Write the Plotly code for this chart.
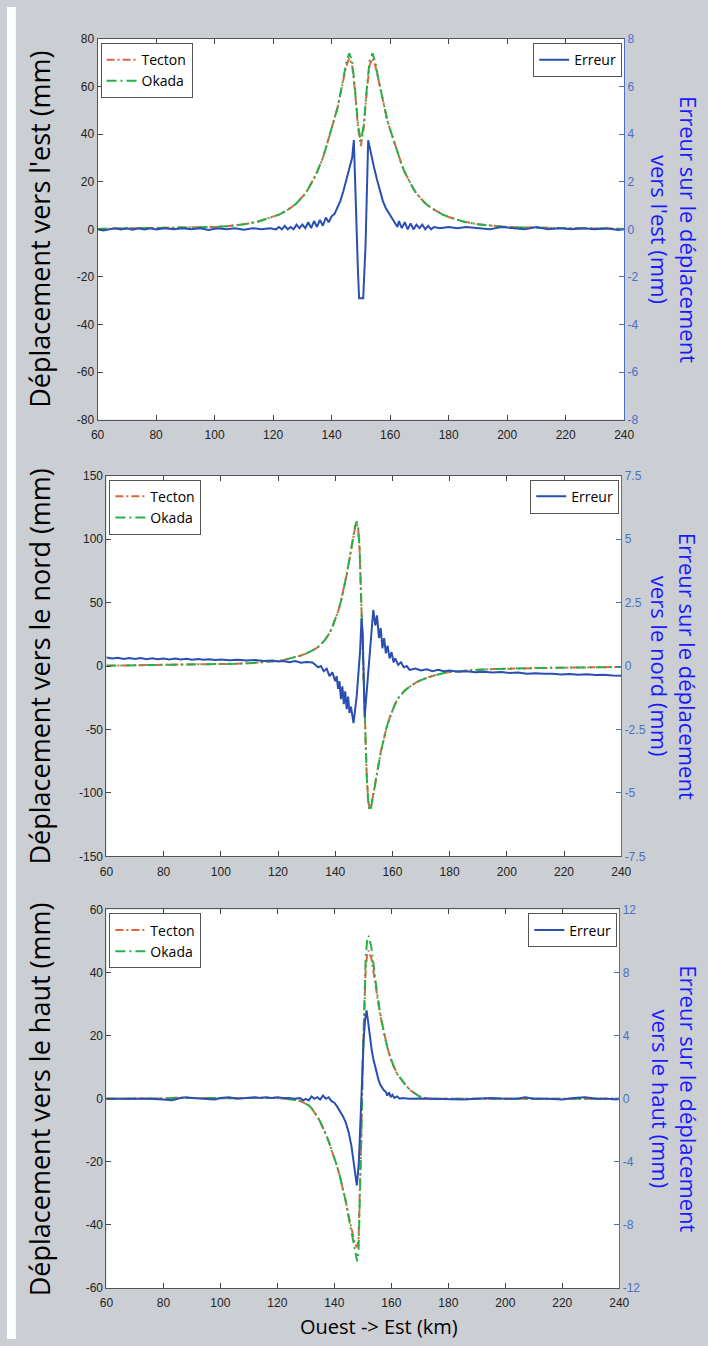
import plotly.graph_objects as go

# ---------------- DATA ----------------
# Panel 1 : east displacement
X_EST = [60, 65, 70, 75, 80, 85, 90, 95, 100, 105, 110, 115, 120,
         122, 124, 126, 128, 130,
         131, 132, 133, 134, 135, 136, 137, 138, 139, 140, 141, 142, 143, 144, 145,
         146, 147, 148, 149, 150, 151, 152, 153, 154, 155, 156, 157, 158, 159, 160,
         161, 162, 163, 164, 165, 166, 167, 168, 169, 170,
         172, 174, 176, 178, 180,
         185, 190, 195, 200, 205, 210, 215, 220, 225, 230, 235, 240]
TECTON_EST = [0.2, 0.3, 0.3, 0.4, 0.5, 0.6, 0.7, 0.8, 1.0, 1.4, 2.1, 3.3, 5.2,
              6.2, 7.5, 9.0, 11.0, 13.5,
              15, 17, 19, 21.5, 24, 27, 30, 34, 38, 42, 46, 51, 57, 63, 68.5,
              72, 69, 58, 43, 35, 43, 58, 69, 72, 68.5, 63, 57, 51, 46, 42,
              38, 34, 30, 27, 24, 21.5, 19, 17, 15, 13.5,
              11.0, 9.0, 7.5, 6.2, 5.2,
              3.3, 2.1, 1.4, 1.0, 0.8, 0.7, 0.6, 0.5, 0.4, 0.3, 0.3, 0.2]
OKADA_EST = [0.2, 0.3, 0.3, 0.4, 0.5, 0.6, 0.7, 0.8, 1.0, 1.4, 2.1, 3.3, 5.2,
             6.2, 7.5, 9.0, 11.0, 13.5,
             15, 17, 19, 21.5, 24, 27, 30, 34, 38, 42, 46, 51, 57, 63, 70,
             74, 71, 59, 44, 37, 44, 59, 71, 74, 70, 63, 57, 51, 46, 42,
             38, 34, 30, 27, 24, 21.5, 19, 17, 15, 13.5,
             11.0, 9.0, 7.5, 6.2, 5.2,
             3.3, 2.1, 1.4, 1.0, 0.8, 0.7, 0.6, 0.5, 0.4, 0.3, 0.3, 0.2]
X_ERR_EST = [60, 62, 64, 66, 68, 70, 72, 74, 76, 78, 80, 83, 86, 89, 92, 95, 98, 101, 104, 107,
             110, 113, 116, 119, 121, 122, 123, 124, 125, 126, 127, 128, 129, 130, 131, 132,
             133, 134, 135, 136, 137, 138, 139, 140, 141, 142, 143, 144, 145, 146, 147,
             147.6, 148.6, 149.0, 149.4, 150.8, 151.2, 151.6, 152.5,
             153.5, 154.5, 155.5, 156.5, 157.5, 158.5, 159.5, 160.5, 161.5, 162.5,
             163, 164, 165, 166, 167, 168, 169, 170, 171, 172, 173, 174, 175, 177, 180,
             183, 186, 190, 194, 198, 202, 206, 210, 214, 218, 222, 226, 230, 234, 238, 240]
ERREUR_EST = [0.0, -0.05, 0.0, 0.05, 0.0, 0.05, -0.02, 0.05, 0.0, 0.05, 0.0, 0.05, 0.0, 0.05, 0.0,
              0.05, -0.03, 0.05, 0.0, 0.05,
              -0.02, 0.05, 0.0, 0.05, 0.0, 0.1, 0.0, 0.15, 0.0, 0.1, 0.0, 0.2, 0.05, 0.2, 0.05, 0.3,
              0.05, 0.35, 0.1, 0.4, 0.15, 0.5, 0.3, 0.55, 0.65, 0.9, 1.2, 1.6, 2.1, 2.5, 3.0,
              3.75, -0.65, -1.75, -2.9, -2.9, -1.75, -0.65, 3.75,
              3.1, 2.6, 2.1, 1.6, 1.2, 0.9, 0.7, 0.5, 0.3, 0.1,
              0.35, 0.05, 0.3, 0.0, 0.25, 0.0, 0.2, 0.05, 0.2, 0.0, 0.15, 0.0, 0.1, 0.05, 0.1,
              0.05, 0.1, 0.05, 0.0, 0.1, 0.05, 0.0, 0.1, 0.0, 0.05, 0.0, 0.05, 0.0, 0.05, -0.03, 0.0]

# Panel 2 : north displacement
X_NORD = [60, 65, 70, 75, 80, 85, 90, 95, 100, 105, 110, 115, 120,
          122, 124, 126, 128, 130,
          131, 132, 133, 134, 135, 136, 137, 138, 139, 140, 141, 142, 143, 144, 145, 146,
          146.5, 147, 147.5, 148, 148.5, 149, 149.5, 150, 150.5, 151, 151.5, 152, 152.5, 153,
          154, 155, 156, 157, 158, 159, 160, 161, 162, 163, 164, 165, 166, 167, 168, 169, 170,
          172, 174, 176, 178, 180,
          185, 190, 195, 200, 205, 210, 215, 220, 225, 230, 235, 240]
TECTON_NORD = [0.3, 0.4, 0.5, 0.6, 0.7, 0.8, 1.0, 1.2, 1.5, 1.8, 2.3, 3.0, 4.0,
               4.8, 5.8, 7.0, 8.3, 10.0,
               11, 12, 13.5, 15, 17, 19.5, 22.5, 26, 31, 36.5, 43, 51, 61, 72, 84, 97,
               104, 110, 112.5, 108, 93, 58, 12, -25, -52, -85, -105, -112.5, -111, -104,
               -91, -79, -67, -57, -48, -41, -34.5, -29.5, -25.5, -22.5, -20, -18, -16.2, -14.7, -13.3, -12, -11,
               -9.3, -7.8, -6.5, -5.4, -4.6,
               -3.6, -2.9, -2.4, -2.0, -1.8, -1.6, -1.4, -1.2, -1.1, -0.9, -0.8, -0.7]
OKADA_NORD = [0.3, 0.4, 0.5, 0.6, 0.7, 0.8, 1.0, 1.2, 1.5, 1.8, 2.3, 3.0, 4.0,
              4.8, 5.8, 7.0, 8.3, 10.0,
              11, 12, 13.5, 15, 17, 19.5, 22.5, 26, 31, 36.5, 43, 51, 61, 72, 85, 98,
              105, 111, 114, 109, 94, 59, 12, -26, -53, -86, -106, -114, -112, -105,
              -92, -80, -67, -57, -48, -41, -34.5, -29.5, -25.5, -22.5, -20, -18, -16.2, -14.7, -13.3, -12, -11,
              -9.3, -7.8, -6.5, -5.4, -4.6,
              -3.6, -2.9, -2.4, -2.0, -1.8, -1.6, -1.4, -1.2, -1.1, -0.9, -0.8, -0.7]
X_ERR_NORD = [60, 62, 64, 66, 68, 70, 72, 74, 76, 78, 80, 82, 84, 86, 88, 90, 92, 94, 96, 98, 100,
              103, 106, 109, 112, 115, 118, 120, 122, 124, 126, 128, 130, 131, 132, 133, 134, 135,
              136, 137, 138, 139, 140, 140.5, 141, 141.5, 142, 142.5, 143, 143.5, 144, 144.5, 145,
              145.5, 146.4, 147.5, 148.7, 149.2, 149.6, 150.3, 151.5, 152.5, 153.3, 154.0, 154.6,
              155.3, 155.9, 156.5, 157.1, 157.7, 158.3, 159, 159.7, 160.4, 161, 162, 163, 164, 165,
              166, 168, 170, 172, 174, 176, 178, 180, 183, 186, 189, 192, 195, 198, 201, 204, 207,
              210, 213, 216, 219, 222, 225, 228, 231, 234, 237, 240]
ERREUR_NORD = [0.34, 0.30, 0.33, 0.28, 0.32, 0.28, 0.32, 0.27, 0.31, 0.27, 0.30, 0.26, 0.30, 0.26, 0.29,
               0.25, 0.28, 0.25, 0.27, 0.24, 0.26,
               0.23, 0.25, 0.22, 0.24, 0.20, 0.22, 0.18, 0.20, 0.15, 0.20, 0.13, 0.16, 0.14, 0.14, 0.05,
               -0.05, 0.0,
               -0.2, -0.1, -0.4, -0.25, -0.6, -0.4, -0.9, -0.6, -1.3, -0.8, -1.5, -1.0, -1.7, -1.2, -1.85,
               -1.6, -2.25, -1.2, 0.6, 1.88, 1.3, -2.0, -0.2, 1.2, 2.21, 1.6, 2.0,
               1.1, 1.5, 0.7, 1.1, 0.5, 0.8, 0.3, 0.55, 0.15, 0.3, 0.05, 0.15, -0.05, 0.0,
               -0.15, -0.1, -0.17, -0.13, -0.2, -0.15, -0.2, -0.18, -0.22, -0.2, -0.24, -0.22, -0.25, -0.23,
               -0.27, -0.25, -0.3,
               -0.28, -0.3, -0.3, -0.33, -0.31, -0.34, -0.32, -0.35, -0.34, -0.37, -0.38]

# Panel 3 : vertical displacement
X_HAUT = [60, 65, 70, 75, 80, 85, 90, 95, 100, 105, 110, 115, 120,
          122, 124, 126, 128,
          130, 131, 132, 133, 134, 135, 136, 137, 138, 139, 140, 141, 142, 143, 144, 145, 146, 147,
          147.5, 148, 148.5, 149, 149.5, 150, 150.5, 151, 151.5, 152,
          153, 154, 155, 156, 157, 158, 159, 160, 161, 162, 163, 164, 165, 166, 167, 168, 169, 170,
          172, 174, 176, 178, 180,
          185, 190, 195, 200, 205, 210, 215, 220, 225, 230, 235, 240]
TECTON_HAUT = [0.0, 0.0, 0.1, 0.0, 0.1, 0.3, 0.2, 0.1, 0.2, 0.2, 0.3, 0.3, 0.2,
               0.1, 0.0, -0.3, -0.7,
               -1.5, -2.1, -3.0, -4.2, -5.6, -7.2, -9.0, -11.2, -13.5, -16.0, -18.6, -21.5, -24.8, -28.5,
               -32.5, -37.0, -41.5, -45.0,
               -46.5, -47.0, -44.0, -30.0, -10.0, 12.0, 30.0, 41.0, 45.5, 47.0,
               44.5, 38.5, 32.5, 27.0, 22.5, 18.5, 15.0, 12.0, 9.8, 8.0, 6.7, 5.5, 4.3, 3.3, 2.5, 1.8,
               1.2, 0.7,
               0.2, 0.0, 0.0, 0.1, 0.0,
               0.0, 0.1, 0.0, 0.1, 0.0, 0.0, 0.1, 0.0, 0.0, 0.1, 0.0, 0.0]
OKADA_HAUT = [0.0, 0.0, 0.1, 0.0, 0.1, 0.3, 0.2, 0.1, 0.2, 0.2, 0.3, 0.3, 0.2,
              0.1, 0.0, -0.3, -0.7,
              -1.5, -2.1, -3.0, -4.2, -5.6, -7.2, -9.0, -11.2, -13.5, -16.0, -18.6, -21.5, -24.8, -28.5,
              -32.5, -37.5, -42.5, -47.5,
              -50.0, -51.5, -48.0, -33.0, -11.0, 13.0, 33.0, 45.0, 50.0, 51.7,
              48.0, 40.5, 33.5, 27.5, 22.5, 18.5, 15.0, 12.0, 9.8, 8.0, 6.7, 5.5, 4.3, 3.3, 2.5, 1.8,
              1.2, 0.7,
              0.2, 0.0, 0.0, 0.1, 0.0,
              0.0, 0.1, 0.0, 0.1, 0.0, 0.0, 0.1, 0.0, 0.0, 0.1, 0.0, 0.0]
X_ERR_HAUT = [60, 65, 70, 75, 80, 83, 86, 88, 90, 93, 96, 98, 100, 103, 106, 109, 112, 114, 116,
              118, 120, 122, 124, 126, 128, 129, 130, 131, 132, 133, 134, 135, 136, 137, 138, 139,
              140, 141, 142, 143, 144, 145, 146, 147, 147.9, 148.6, 149.2, 149.7, 150.3, 150.8,
              151.3, 151.9, 152.5, 153.1, 153.7, 154.3, 154.9, 155.5, 156.1, 156.7, 157.3, 158,
              158.6, 159.2, 159.8, 160.4, 161, 162, 163, 164, 166, 170, 175, 180, 185, 190, 195,
              200, 204, 207, 210, 215, 220, 224, 228, 232, 236, 239, 240]
ERREUR_HAUT = [0.0, 0.0, 0.0, 0.0, -0.05, -0.1, 0.05, 0.1, 0.05, 0.0, -0.05, -0.05, 0.05, 0.1, 0.0,
               0.05, 0.1, 0.05, 0.1,
               0.05, 0.1, 0.05, 0.05, 0.0, 0.05, -0.1, 0.0, -0.1, 0.15, 0.0, 0.1, -0.05, 0.2, 0.0,
               0.1, -0.15,
               -0.25, -0.5, -0.8, -1.1, -1.5, -2.1, -3.0, -4.2, -5.5, -4.0, -1.0, 1.8, 3.8, 5.0,
               5.6, 4.8, 3.9, 3.1, 2.5, 2.0, 1.6, 1.2, 0.9, 0.7, 0.55, 0.45,
               0.2, 0.4, 0.1, 0.25, 0.05, 0.15, 0.0, 0.05, 0.0, 0.02, 0.0, 0.0, -0.05, 0.0, 0.05,
               0.0, 0.0, 0.1, 0.0, 0.0, -0.05, 0.05, 0.1, 0.0, 0.0, -0.05, 0.0]

X_TICKS = [60, 80, 100, 120, 140, 160, 180, 200, 220, 240]
LEFT_TICKS = [[80, 60, 40, 20, 0, -20, -40, -60, -80],
              [150, 100, 50, 0, -50, -100, -150],
              [60, 40, 20, 0, -20, -40, -60]]
RIGHT_TICKS = [[8, 6, 4, 2, 0, -2, -4, -6, -8],
               [7.5, 5, 2.5, 0, -2.5, -5, -7.5],
               [12, 8, 4, 0, -4, -8, -12]]
RIGHT_TICK_TEXT = [["8", "6", "4", "2", "0", "-2", "-4", "-6", "-8"],
                   ["7.5", "5", "2.5", "0", "-2.5", "-5", "-7.5"],
                   ["12", "8", "4", "0", "-4", "-8", "-12"]]
LEFT_TICK_TEXT = [["80", "60", "40", "20", "0", "-20", "-40", "-60", "-80"],
                  ["150", "100", "50", "0", "-50", "-100", "-150"],
                  ["60", "40", "20", "0", "-20", "-40", "-60"]]
LEFT_TITLES = ["Déplacement vers l'est (mm)", "Déplacement vers le nord (mm)",
               "Déplacement vers le haut (mm)"]
RIGHT_TITLES = ["Erreur sur le déplacement<br>vers l'est (mm)",
                "Erreur sur le déplacement<br>vers le nord (mm)",
                "Erreur sur le déplacement<br>vers le haut (mm)"]
X_TITLE = "Ouest -> Est (km)"

# ---------------- STYLE ----------------
W, H = 708, 1346
# the page is photographed slightly scaled and centred: map screen px -> paper fraction
SX0, SY0, SCX, SCY = 3.0, 8.0, 0.9915, 0.988


def fx(s):
    return (s - SX0) / SCX / W


def fy(s):
    return 1 - (s - SY0) / SCY / H


BG = "#cbced3"
RED = "#e0653f"
GREEN = "#27b04b"
BLUE = "#2a4fb0"
AXBLUE = "#4a70c4"
TICKFONT = "Liberation Sans, Arial, sans-serif"
TXTFONT = "Open Sans, Noto Sans, sans-serif"

# panels in target-picture pixels: (x_left, x_right, y_top, y_bottom)
PANELS = [(95, 630, 40, 420), (104, 627, 476, 856), (104, 625, 909, 1287)]
LEFT_RANGES = [[-80, 80], [-150, 150], [-60, 60]]
RIGHT_RANGES = [[-8, 8], [-7.5, 7.5], [-12, 12]]
MODEL = [(X_EST, TECTON_EST, OKADA_EST, X_ERR_EST, ERREUR_EST),
         (X_NORD, TECTON_NORD, OKADA_NORD, X_ERR_NORD, ERREUR_NORD),
         (X_HAUT, TECTON_HAUT, OKADA_HAUT, X_ERR_HAUT, ERREUR_HAUT)]

fig = go.Figure()
layout = dict(width=W, height=H, margin=dict(l=0, r=0, t=0, b=0),
              paper_bgcolor=BG, plot_bgcolor="white", showlegend=True,
              annotations=[], shapes=[])

for i, (sx0, sx1, syt, syb) in enumerate(PANELS):
    xs = "" if i == 0 else str(i + 1)
    yl = "" if i == 0 else str(2 * i + 1)
    yr = str(2 * i + 2)
    xk, ylk, yrk = "xaxis" + xs, "yaxis" + yl, "yaxis" + yr
    xr, ylr, yrr = "x" + xs, "y" + yl, "y" + yr
    legL = "legend" if i == 0 else "legend" + str(2 * i + 1)
    legR = "legend" + str(2 * i + 2)

    xv, tec, oka, xe, err = MODEL[i]
    fig.add_trace(go.Scatter(x=xv, y=tec, name="Tecton", mode="lines",
                             line=dict(color=RED, width=2, dash="8px,3px,2px,3px"),
                             xaxis=xr, yaxis=ylr, legend=legL))
    fig.add_trace(go.Scatter(x=xv, y=oka, name="Okada", mode="lines",
                             line=dict(color=GREEN, width=2, dash="10px,4px,2px,4px"),
                             xaxis=xr, yaxis=ylr, legend=legL))
    fig.add_trace(go.Scatter(x=xe, y=err, name="Erreur", mode="lines",
                             line=dict(color=BLUE, width=2),
                             xaxis=xr, yaxis=yrr, legend=legR))

    dom_x = [fx(sx0), fx(sx1)]
    dom_y = [fy(syb), fy(syt)]
    layout[xk] = dict(domain=dom_x, anchor=ylr, range=[60, 240], tickvals=X_TICKS,
                      ticks="inside", ticklen=5, tickcolor="#444", mirror="ticks",
                      showline=True, linecolor="#555", linewidth=1, showgrid=False,
                      zeroline=False, ticklabelstandoff=4,
                      tickfont=dict(family=TICKFONT, size=12, color="#222"))
    layout[ylk] = dict(domain=dom_y, anchor=xr, range=LEFT_RANGES[i], tickvals=LEFT_TICKS[i],
                       ticktext=LEFT_TICK_TEXT[i],
                       ticks="inside", ticklen=5, tickcolor="#444", showline=True,
                       linecolor="#555", linewidth=1, showgrid=False, zeroline=False,
                       tickfont=dict(family=TICKFONT, size=12, color="#222"))
    layout[yrk] = dict(overlaying=ylr, anchor=xr, side="right", range=RIGHT_RANGES[i],
                       tickvals=RIGHT_TICKS[i], ticktext=RIGHT_TICK_TEXT[i],
                       ticks="inside", ticklen=5, tickcolor=AXBLUE, showline=True,
                       linecolor=AXBLUE, linewidth=1, showgrid=False, zeroline=False,
                       tickfont=dict(family=TICKFONT, size=12, color=AXBLUE))
    layout[legL] = dict(x=fx(sx0 + 3), y=fy(syt + 4), xanchor="left", yanchor="top",
                        bgcolor="white", bordercolor="#555", borderwidth=1,
                        font=dict(family=TXTFONT, size=14, color="black"),
                        itemwidth=30, tracegroupgap=0)
    layout[legR] = dict(x=fx(sx1 - 2), y=fy(syt + 4), xanchor="right", yanchor="top",
                        bgcolor="white", bordercolor="#555", borderwidth=1,
                        font=dict(family=TXTFONT, size=14, color="black"),
                        itemwidth=30, tracegroupgap=0)

    ymid = fy((syt + syb) / 2)
    layout["annotations"].append(dict(text=LEFT_TITLES[i], textangle=-90, xref="paper",
                                      yref="paper", x=fx(36), y=ymid, xanchor="center",
                                      yanchor="middle", showarrow=False,
                                      font=dict(family=TXTFONT, size=27, color="black")))
    layout["annotations"].append(dict(text=RIGHT_TITLES[i], textangle=90, xref="paper",
                                      yref="paper", x=fx(681), y=ymid, xanchor="center",
                                      yanchor="middle", showarrow=False,
                                      font=dict(family=TXTFONT, size=22, color="#1a1aff")))

layout["annotations"].append(dict(text=X_TITLE, xref="paper", yref="paper", x=fx(381),
                                  y=fy(1325), xanchor="center", yanchor="middle",
                                  showarrow=False,
                                  font=dict(family=TXTFONT, size=20, color="black")))
layout["shapes"].append(dict(type="rect", xref="paper", yref="paper", x0=0, x1=fx(12),
                             y0=0, y1=1, fillcolor="white", line=dict(width=0), layer="below"))

fig.update_layout(**layout)
fig.write_html("out.html", config={"displayModeBar": False},
               post_script="document.body.style.margin='0';")
